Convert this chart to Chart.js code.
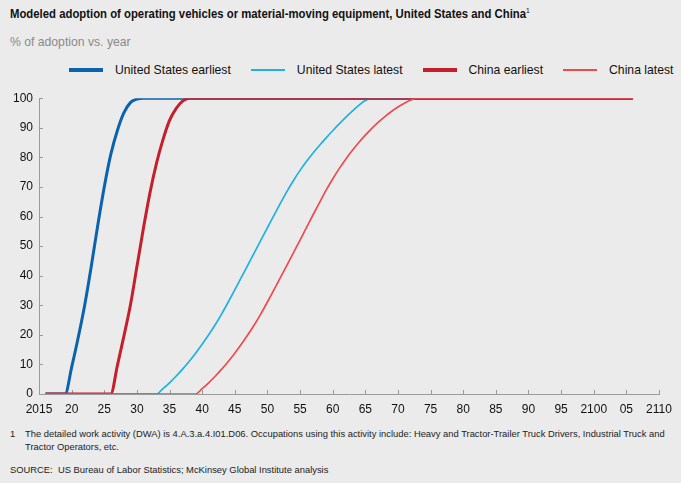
<!DOCTYPE html>
<html>
<head>
<meta charset="utf-8">
<script src="https://cdn.jsdelivr.net/npm/chart.js@4.4.1/dist/chart.umd.min.js"></script>
<style>
    body {
        margin: 0;
        width: 681px;
        height: 483px;
        background: #ebebeb;
        position: relative;
        overflow: hidden;
        font-family: 'Liberation Sans', Arial, Helvetica, sans-serif;
        color: #111;
    }
    #title {
        position: absolute;
        left: 10px;
        top: 5px;
        font-weight: bold;
        font-size: 13.5px;
        white-space: nowrap;
        transform: scaleX(0.84);
        transform-origin: left center;
    }
    #title sup { font-size: 8px; font-weight: normal; position: relative; top: 1px; }
    #subtitle {
        position: absolute;
        left: 10px;
        top: 35px;
        font-size: 12.2px;
        color: #8a8a8a;
    }
    #legend {
        position: absolute;
        left: 69px;
        top: 63px;
        display: flex;
        align-items: center;
        font-size: 12.2px;
        white-space: nowrap;
    }
    .legend-item { display: flex; align-items: center; margin-right: 20px; }
    .legend-line { width: 34px; margin-right: 12px; }
    #chart-wrap { position: absolute; left: 0; top: 85px; }
    #notes {
        position: absolute;
        left: 10px;
        top: 427px;
        font-size: 9.4px;
        line-height: 13px;
        color: #222;
    }
    #notes .fn { display: flex; }
    #notes .fn span:first-child { width: 15px; flex: none; }
    #source { margin-top: 10px; }
</style>
</head>
<body>
<div id="title">Modeled adoption of operating vehicles or material-moving equipment, United States and China<sup>1</sup></div>
<div id="subtitle">% of adoption vs. year</div>
<div id="legend"></div>
<div id="chart-wrap"><canvas id="adoptionChart" width="681" height="340"></canvas></div>
<div id="notes">
    <div class="fn"><span>1</span><span>The detailed work activity (DWA) is 4.A.3.a.4.I01.D06. Occupations using this activity include: Heavy and Tractor-Trailer Truck Drivers, Industrial Truck and<br>Tractor Operators, etc.</span></div>
    <div id="source">SOURCE:&nbsp; US Bureau of Labor Statistics; McKinsey Global Institute analysis</div>
</div>
<script>
const seriesNames = ['United States earliest', 'United States latest', 'China earliest', 'China latest'];
const seriesColors = ['#0b62ad', '#1fb0e4', '#c61f2c', '#ef4a4e'];
const seriesWidths = [3, 1.7, 3, 1.7];

const usEarliestYears = [2016, 2019, 2020, 2021, 2022, 2023, 2024, 2025, 2026, 2027, 2028, 2029, 2030, 2031, 2106];
const usEarliestValues = [0, 0, 9, 19, 30, 43, 57, 70, 81, 89, 95, 98.5, 99.7, 100, 100];

const usLatestYears = [2016, 2033, 2034, 2035, 2036, 2037, 2038, 2039, 2040, 2041, 2042, 2043, 2044, 2045,
    2046, 2047, 2048, 2049, 2050, 2051, 2052, 2053, 2054, 2055, 2056, 2057, 2058, 2059, 2060, 2061, 2062,
    2063, 2064, 2065, 2066, 2106];
const usLatestValues = [0, 0, 1.8, 3.8, 6, 8.4, 11, 13.8, 16.8, 20, 23.4, 27.1, 31.1, 35.2,
    39.4, 43.6, 47.8, 52, 56.2, 60.4, 64.5, 68.5, 72.2, 75.6, 78.7, 81.5, 84.1, 86.6, 89, 91.3, 93.5,
    95.6, 97.6, 99.2, 100, 100];

const chinaEarliestYears = [2016, 2026, 2027, 2028, 2029, 2030, 2031, 2032, 2033, 2034, 2035, 2036, 2037, 2038, 2106];
const chinaEarliestValues = [0, 0, 9.5, 19.5, 30, 43, 56, 68, 78, 86, 92.5, 96.5, 99, 100, 100];

const chinaLatestYears = [2016, 2039, 2040, 2041, 2042, 2043, 2044, 2045, 2046, 2047, 2048, 2049, 2050, 2051,
    2052, 2053, 2054, 2055, 2056, 2057, 2058, 2059, 2060, 2061, 2062, 2063, 2064, 2065, 2066, 2067, 2068,
    2069, 2070, 2071, 2072, 2073, 2106];
const chinaLatestValues = [0, 0, 1.8, 3.8, 6, 8.4, 11, 13.8, 16.8, 20, 23.4, 27.1, 31.1, 35.2,
    39.4, 43.6, 47.8, 52, 56.3, 60.6, 64.8, 68.9, 72.7, 76.2, 79.4, 82.3, 85, 87.5, 89.8, 91.9, 93.8,
    95.5, 97, 98.3, 99.4, 100, 100];

const xTickYears = [2015, 2020, 2025, 2030, 2035, 2040, 2045, 2050, 2055, 2060, 2065, 2070, 2075, 2080,
    2085, 2090, 2095, 2100, 2105, 2110];
const xTickLabels = ['2015', '20', '25', '30', '35', '40', '45', '50', '55', '60', '65', '70', '75', '80',
    '85', '90', '95', '2100', '05', '2110'];

const axisColor = '#9a9a9a';

function toPoints(years, values) {
    return years.map((yr, i) => ({ x: yr, y: values[i] }));
}

const seriesData = [
    toPoints(usEarliestYears, usEarliestValues),
    toPoints(usLatestYears, usLatestValues),
    toPoints(chinaEarliestYears, chinaEarliestValues),
    toPoints(chinaLatestYears, chinaLatestValues),
];

document.getElementById('legend').innerHTML = seriesNames.map((name, i) => `
    <div class="legend-item">
        <div class="legend-line" style="height:${seriesWidths[i] + 0.5}px;background:${seriesColors[i]}"></div>
        <span>${name}</span>
    </div>
`).join('');

// small tick marks pointing into the plot, as in the original
const innerTicks = {
    id: 'innerTicks',
    beforeDatasetsDraw(chart) {
        const { ctx, scales: { x, y } } = chart;
        ctx.save();
        ctx.strokeStyle = axisColor;
        ctx.lineWidth = 1;
        ctx.beginPath();
        x.ticks.forEach(t => {
            const px = Math.round(x.getPixelForValue(t.value)) + 0.5;
            ctx.moveTo(px, x.top);
            ctx.lineTo(px, x.top - 4);
        });
        y.ticks.forEach(t => {
            const py = Math.round(y.getPixelForValue(t.value)) + 0.5;
            ctx.moveTo(y.right, py);
            ctx.lineTo(y.right + 4, py);
        });
        ctx.stroke();
        ctx.restore();
    }
};

Chart.defaults.font.family = "'Liberation Sans', Arial, Helvetica, sans-serif";
Chart.defaults.color = '#111';

new Chart(document.getElementById('adoptionChart'), {
    type: 'line',
    data: {
        datasets: seriesData.map((pts, i) => ({
            label: seriesNames[i],
            data: pts,
            borderColor: seriesColors[i],
            backgroundColor: seriesColors[i],
            borderWidth: seriesWidths[i],
            pointRadius: 0,
            cubicInterpolationMode: 'monotone',
            order: 3 - i,
        }))
    },
    options: {
        responsive: false,
        animation: false,
        layout: { padding: { top: 12, right: 22, left: 0, bottom: 0 } },
        plugins: {
            legend: { display: false },
            tooltip: { enabled: false }
        },
        scales: {
            x: {
                type: 'linear',
                min: 2015,
                max: 2110,
                afterBuildTicks: scale => { scale.ticks = xTickYears.map(v => ({ value: v })); },
                afterFit: scale => { scale.height = 31; },
                grid: { display: false, drawTicks: false },
                border: { display: true, color: axisColor, width: 1 },
                ticks: {
                    autoSkip: false,
                    maxRotation: 0,
                    padding: 8,
                    font: { size: 12 },
                    callback: (value, index) => xTickLabels[index]
                }
            },
            y: {
                min: 0,
                max: 100,
                afterFit: scale => { scale.width = 39; },
                grid: { display: false, drawTicks: false },
                border: { display: true, color: axisColor, width: 1 },
                ticks: {
                    stepSize: 10,
                    padding: 6,
                    font: { size: 12 }
                }
            }
        }
    },
    plugins: [innerTicks]
});
</script>
</body>
</html>
